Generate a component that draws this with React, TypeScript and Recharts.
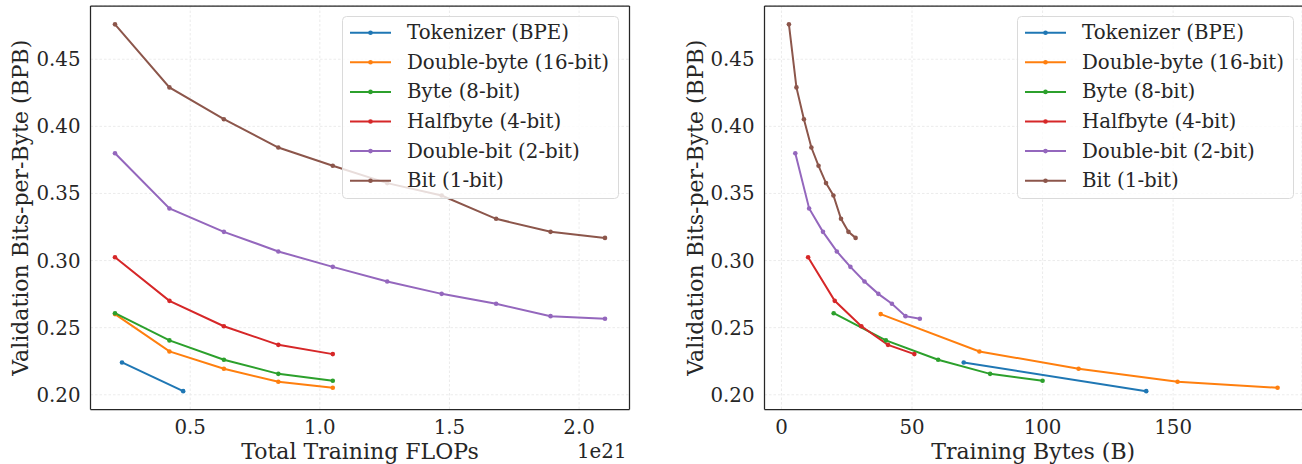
import React from 'react'
import {
  LineChart,
  Line,
  XAxis,
  YAxis,
  CartesianGrid,
  Legend,
  Label,
  ReferenceLine,
} from 'recharts'

const seriesNames = [
  'Tokenizer (BPE)',
  'Double-byte (16-bit)',
  'Byte (8-bit)',
  'Halfbyte (4-bit)',
  'Double-bit (2-bit)',
  'Bit (1-bit)',
]
const seriesColors = ['#1f77b4', '#ff7f0e', '#2ca02c', '#d62728', '#9467bd', '#8c564b']

// total training FLOPs, in units of 1e21
const flopsBpe = [0.237, 0.473]
const flopsDoubleByte = [0.21, 0.42, 0.63, 0.84, 1.05]
const flopsByte = [0.21, 0.42, 0.63, 0.84, 1.05]
const flopsHalfbyte = [0.21, 0.42, 0.63, 0.84, 1.05]
const flopsDoubleBit = [0.21, 0.42, 0.63, 0.84, 1.05, 1.26, 1.47, 1.68, 1.89, 2.1]
const flopsBit = [0.21, 0.42, 0.63, 0.84, 1.05, 1.26, 1.47, 1.68, 1.89, 2.1]

// training bytes, in billions
const bytesBpe = [69.8, 139.7]
const bytesDoubleByte = [38.0, 75.8, 113.8, 151.7, 190.0]
const bytesByte = [20.0, 40.0, 60.0, 79.9, 100.0]
const bytesHalfbyte = [10.2, 20.4, 30.6, 40.8, 50.9]
const bytesDoubleBit = [5.3, 10.6, 15.9, 21.2, 26.4, 31.8, 37.1, 42.3, 47.5, 53.0]
const bytesBit = [2.86, 5.73, 8.6, 11.46, 14.2, 17.06, 19.9, 22.8, 25.65, 28.4]

// validation bits-per-byte
const bpbBpe = [0.2241, 0.2027]
const bpbDoubleByte = [0.2601, 0.2323, 0.2194, 0.2097, 0.2052]
const bpbByte = [0.2608, 0.2405, 0.2261, 0.2156, 0.2104]
const bpbHalfbyte = [0.3025, 0.27, 0.2511, 0.2372, 0.2303]
const bpbDoubleBit = [0.38, 0.3388, 0.3214, 0.3068, 0.2953, 0.2844, 0.2752, 0.2678, 0.2586, 0.2566]
const bpbBit = [0.476, 0.429, 0.4053, 0.3842, 0.3706, 0.3577, 0.3485, 0.3311, 0.3214, 0.3169]

const flopsTicks = [0.5, 1.0, 1.5, 2.0]
const bytesTicks = [0, 50, 100, 150]
const bpbTicks = [0.2, 0.25, 0.3, 0.35, 0.4, 0.45]

const flops = [flopsBpe, flopsDoubleByte, flopsByte, flopsHalfbyte, flopsDoubleBit, flopsBit]
const bytes = [bytesBpe, bytesDoubleByte, bytesByte, bytesHalfbyte, bytesDoubleBit, bytesBit]
const bpb = [bpbBpe, bpbDoubleByte, bpbByte, bpbHalfbyte, bpbDoubleBit, bpbBit]

const ink = '#262626'
const font = 'DejaVu Serif'
const tickSize = 19.8
const titleSize = 22

// matplotlib-style 5% padding around the data
const padded = (vals: number[]): [number, number] => {
  const lo = Math.min(...vals)
  const hi = Math.max(...vals)
  const m = (hi - lo) * 0.05
  return [lo - m, hi + m]
}

const yDomain = padded(bpb.flat())

function LegendBox() {
  return (
    <svg width={277} height={183} style={{ display: 'block' }}>
      <rect x={0.5} y={0.5} width={276} height={182} rx={4} fill="#fff" fillOpacity={0.8} stroke="#dadada" />
      {seriesNames.map((name, i) => {
        const cy = 16.7 + i * 29.6
        return (
          <g key={name}>
            <line x1={8} x2={49} y1={cy} y2={cy} stroke={seriesColors[i]} strokeWidth={2} />
            <circle cx={28.5} cy={cy} r={2.3} fill={seriesColors[i]} />
            <text x={65} y={cy} dominantBaseline="central" fontSize={tickSize} fill={ink} fontFamily={font}>
              {name}
            </text>
          </g>
        )
      })}
    </svg>
  )
}

interface PanelProps {
  xs: number[][]
  width: number
  yAxisWidth: number
  rightMargin: number
  xTicks: number[]
  xFormat: (v: number) => string
  xLabel: string
  yLabelOffset: number
  legendLeft: number
  offsetText?: string
  drawRight: boolean
}

function Panel({ xs, width, yAxisWidth, rightMargin, xTicks, xFormat, xLabel, yLabelOffset, legendLeft, offsetText, drawRight }: PanelProps) {
  const xDomain = padded(xs.flat())
  const series = seriesNames.map((name, i) => ({
    name,
    color: seriesColors[i],
    points: xs[i].map((x, j) => ({ x, y: bpb[i][j] })),
  }))

  return (
    <LineChart width={width} height={464} margin={{ top: 6, right: rightMargin, bottom: 0, left: 0.5 }}>
      <CartesianGrid stroke="#e6e6e6" strokeDasharray="2.5 2" strokeWidth={0.8} />
      <XAxis
        type="number"
        dataKey="x"
        domain={xDomain}
        ticks={xTicks}
        interval={0}
        tickFormatter={xFormat}
        height={54.5}
        tickSize={0}
        tickMargin={10.5}
        tickLine={false}
        axisLine={{ stroke: ink, strokeWidth: 1.25 }}
        tick={{ fontSize: tickSize, fill: ink, fontFamily: font }}
        allowDataOverflow
      >
        <Label value={xLabel} position="insideBottom" offset={5} fontSize={titleSize} fill={ink} fontFamily={font} />
        {offsetText && (
          <Label value={offsetText} position="insideBottomRight" offset={6} dx={3} fontSize={tickSize} fill={ink} fontFamily={font} />
        )}
      </XAxis>
      <YAxis
        type="number"
        domain={yDomain}
        ticks={bpbTicks}
        interval={0}
        tickFormatter={(v: number) => v.toFixed(2)}
        width={yAxisWidth}
        tickSize={0}
        tickMargin={10}
        tickLine={false}
        axisLine={{ stroke: ink, strokeWidth: 1.25 }}
        tick={{ fontSize: tickSize, fill: ink, fontFamily: font }}
        allowDataOverflow
      >
        <Label
          value="Validation Bits-per-Byte (BPB)"
          angle={-90}
          position="insideLeft"
          offset={yLabelOffset}
          fontSize={titleSize}
          fill={ink}
          fontFamily={font}
          style={{ textAnchor: 'middle' }}
        />
      </YAxis>
      <ReferenceLine y={yDomain[1]} stroke={ink} strokeWidth={1.25} ifOverflow="visible" />
      {drawRight && <ReferenceLine x={xDomain[1]} stroke={ink} strokeWidth={1.25} ifOverflow="visible" />}
      {series.map((s) => (
        <Line
          key={s.name}
          data={s.points}
          dataKey="y"
          name={s.name}
          stroke={s.color}
          strokeWidth={2}
          dot={{ r: 2.3, fill: s.color, stroke: s.color, strokeWidth: 0 }}
          activeDot={false}
          isAnimationActive={false}
        />
      ))}
      <Legend
        layout="vertical"
        align="center"
        verticalAlign="middle"
        content={() => <LegendBox />}
        wrapperStyle={{ left: legendLeft, top: 16, width: 277, height: 183 }}
      />
    </LineChart>
  )
}

export default function App() {
  return (
    <div style={{ position: 'absolute', left: 0, top: 0, width: 1302, height: 464, background: '#fff', fontFamily: font }}>
      <div style={{ position: 'absolute', left: 0, top: 0 }}>
        <Panel
          xs={flops}
          width={650}
          yAxisWidth={90}
          rightMargin={20.5}
          xTicks={flopsTicks}
          xFormat={(v) => v.toFixed(1)}
          xLabel="Total Training FLOPs"
          yLabelOffset={20}
          legendLeft={342}
          offsetText="1e21"
          drawRight
        />
      </div>
      <div style={{ position: 'absolute', left: 650, top: 0 }}>
        <Panel
          xs={bytes}
          width={652}
          yAxisWidth={114}
          rightMargin={0}
          xTicks={bytesTicks}
          xFormat={(v) => String(v)}
          xLabel="Training Bytes (B)"
          yLabelOffset={45}
          legendLeft={367}
          drawRight={false}
        />
      </div>
    </div>
  )
}
